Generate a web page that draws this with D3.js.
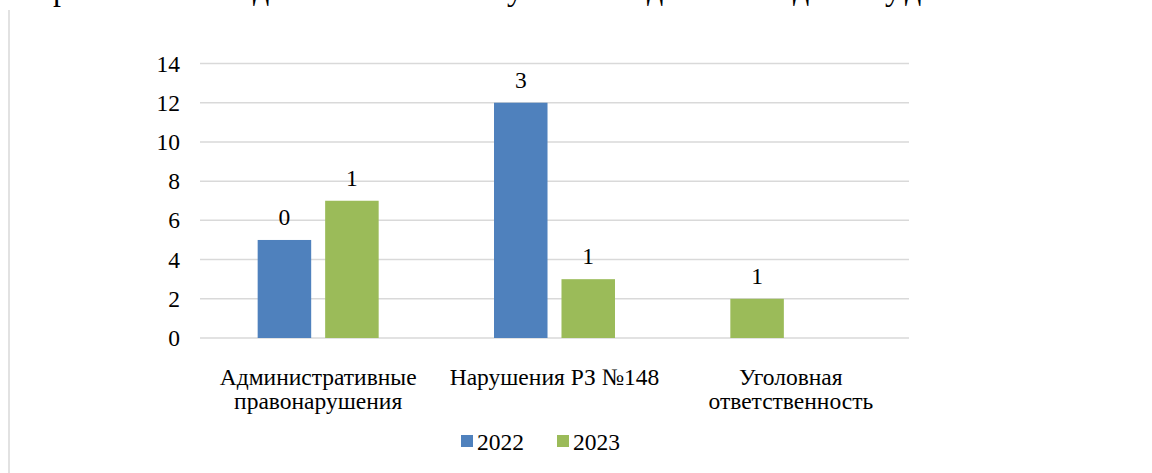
<!DOCTYPE html>
<html>
<head>
  <meta charset="utf-8">
  <script src="https://d3js.org/d3.v7.min.js"></script>
  <style>
    body { margin: 0; background: #fff; }
  </style>
</head>
<body>
  <svg width="1152" height="473"></svg>

  <script>
    const categories = [
      ["Административные", "правонарушения"],
      ["Нарушения РЗ №148"],
      ["Уголовная", "ответственность"]
    ];
    const series = ["2022", "2023"];
    const values2022 = [5, 12, 2];
    const values2023 = [7, 3, 0];
    const labels2022 = ["0", "3", "1"];
    const labels2023 = ["1", "1", ""];
    // in the source the 3rd point of the first series is painted green
    const pointColor2022 = [null, null, "#9bbb59"];
    const yTicks = [0, 2, 4, 6, 8, 10, 12, 14];
    const colors = { "2022": "#4f81bd", "2023": "#9bbb59" };

    // descender fragments of a cut-off heading line above the chart
    const headGlyphs = [
      { ch: "р", x: 53 }, { ch: "д", x: 253 }, { ch: "у", x: 507 },
      { ch: "д", x: 647 }, { ch: "д", x: 793 }, { ch: "у", x: 885 }, { ch: "д", x: 905 }
    ];

    const serif = "'Liberation Serif', 'DejaVu Serif', serif";
    const svg = d3.select("svg")
      .attr("font-family", serif)
      .style("font-family", serif);
    const fs = 23.5;

    svg.selectAll(".head")
      .data(headGlyphs)
      .enter()
      .append("text")
      .attr("class", "head")
      .attr("x", d => d.x)
      .attr("y", 0)
      .style("font-size", "32px")
      .text(d => d.ch);

    // left border of the chart frame
    svg.append("line")
      .attr("x1", 9).attr("x2", 9)
      .attr("y1", 10).attr("y2", 473)
      .attr("stroke", "#d9d9d9")
      .attr("stroke-width", 1.5);

    const catKeys = categories.map(c => c.join(" "));

    const x0 = d3.scaleBand().domain(catKeys).range([200, 909]);
    const bw = x0.bandwidth();
    const x1 = d3.scaleBand().domain(series)
      .range([bw * 0.244, bw * 0.756])
      .paddingInner(0.207);
    const y = d3.scaleLinear().domain([0, 14]).range([338, 63.5]);

    // gridlines
    svg.append("g")
      .selectAll("line")
      .data(yTicks)
      .enter()
      .append("line")
      .attr("x1", 200).attr("x2", 909)
      .attr("y1", d => y(d)).attr("y2", d => y(d))
      .attr("stroke", "#d9d9d9")
      .attr("stroke-width", 1.5);

    // y axis labels
    svg.append("g")
      .selectAll("text")
      .data(yTicks)
      .enter()
      .append("text")
      .attr("x", 180)
      .attr("y", d => y(d) + 8)
      .attr("text-anchor", "end")
      .style("font-size", fs + "px")
      .text(d => d);

    const rows = [];
    catKeys.forEach((c, i) => {
      rows.push({ cat: c, s: "2022", v: values2022[i], label: labels2022[i], color: pointColor2022[i] || colors["2022"] });
      rows.push({ cat: c, s: "2023", v: values2023[i], label: labels2023[i], color: colors["2023"] });
    });
    const shown = rows.filter(d => d.v > 0);

    svg.append("g")
      .selectAll("rect")
      .data(shown)
      .enter()
      .append("rect")
      .attr("x", d => x0(d.cat) + x1(d.s))
      .attr("y", d => y(d.v))
      .attr("width", x1.bandwidth())
      .attr("height", d => y(0) - y(d.v))
      .attr("fill", d => d.color);

    svg.append("g")
      .selectAll("text")
      .data(shown)
      .enter()
      .append("text")
      .attr("x", d => x0(d.cat) + x1(d.s) + x1.bandwidth() / 2)
      .attr("y", d => y(d.v) - 15)
      .attr("text-anchor", "middle")
      .style("font-size", fs + "px")
      .text(d => d.label);

    // category labels
    svg.append("g")
      .selectAll("text")
      .data(categories)
      .enter()
      .append("text")
      .attr("text-anchor", "middle")
      .attr("transform", (d, i) => "translate(" + (x0(catKeys[i]) + bw / 2) + ",385)")
      .style("font-size", fs + "px")
      .each(function (d) {
        d3.select(this).selectAll("tspan")
          .data(d)
          .enter()
          .append("tspan")
          .attr("x", 0)
          .attr("y", (t, j) => j * 23.5)
          .text(t => t);
      });

    // legend
    const legend = svg.append("g").attr("transform", "translate(461,450)");
    const legX = [0, 96];
    series.forEach((s, i) => {
      legend.append("rect")
        .attr("x", legX[i]).attr("y", -15)
        .attr("width", 12).attr("height", 12)
        .attr("fill", colors[s]);
      legend.append("text")
        .attr("x", legX[i] + 16)
        .attr("y", 0)
        .style("font-size", fs + "px")
        .text(s);
    });
  </script>
</body>
</html>
